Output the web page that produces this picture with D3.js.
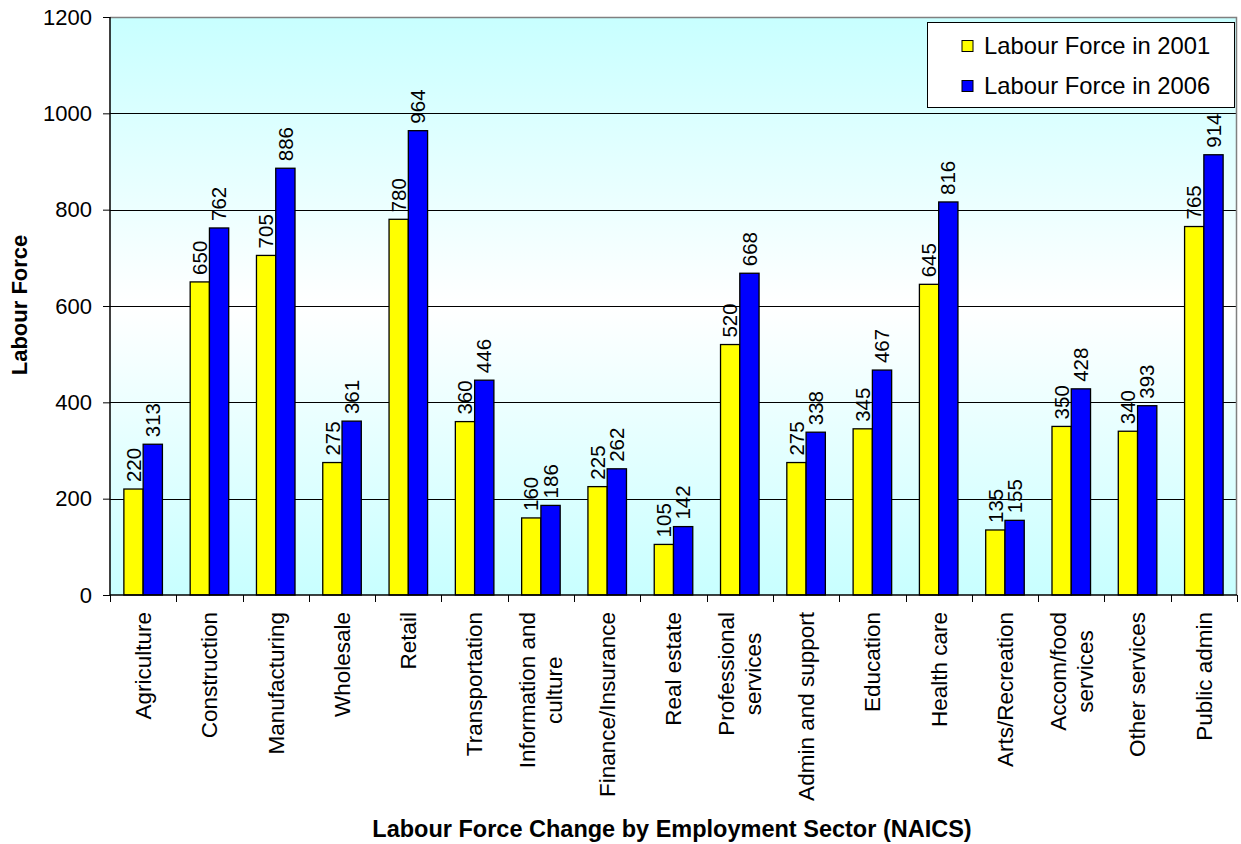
<!DOCTYPE html>
<html>
<head>
<meta charset="utf-8">
<script src="https://cdn.jsdelivr.net/npm/d3@7"></script>
<style>
  html, body { margin: 0; padding: 0; background: #ffffff; }
  svg { display: block; font-family: "Liberation Sans", Arial, sans-serif; }
</style>
</head>
<body>
<svg id="chart" width="1241" height="844"></svg>
<script>
const categories = [
  "Agriculture", "Construction", "Manufacturing", "Wholesale", "Retail",
  "Transportation", "Information and\nculture", "Finance/Insurance", "Real estate",
  "Professional\nservices", "Admin and support", "Education", "Health care",
  "Arts/Recreation", "Accom/food\nservices", "Other services", "Public admin"
];
const seriesNames = ["Labour Force in 2001", "Labour Force in 2006"];
const values2001 = [220, 650, 705, 275, 780, 360, 160, 225, 105, 520, 275, 345, 645, 135, 350, 340, 765];
const values2006 = [313, 762, 886, 361, 964, 446, 186, 262, 142, 668, 338, 467, 816, 155, 428, 393, 914];
const yTicks = [0, 200, 400, 600, 800, 1000, 1200];
const seriesColors = ["#ffff00", "#0000ff"];
const yTitle = "Labour Force";
const xTitle = "Labour Force Change by Employment Sector (NAICS)";

const svg = d3.select("#chart");
const plot = { left: 110, right: 1237, top: 17, bottom: 595 };
const TICK_FONT = 22;
const CAT_FONT = 22.5;
const LABEL_FONT = 20.5;

const x = d3.scaleBand().domain(categories).range([plot.left, plot.right]).padding(0);
const xInner = d3.scaleBand().domain([0, 1]).range([0, x.bandwidth()]).paddingInner(0).paddingOuter(0.72);
const y = d3.scaleLinear().domain([0, 1200]).range([plot.bottom, plot.top]);

// gradient background
const defs = svg.append("defs");
const grad = defs.append("linearGradient").attr("id", "bg").attr("x1", 0).attr("y1", 0).attr("x2", 0).attr("y2", 1);
grad.append("stop").attr("offset", "0%").attr("stop-color", "#c8ffff");
grad.append("stop").attr("offset", "50%").attr("stop-color", "#ffffff");
grad.append("stop").attr("offset", "100%").attr("stop-color", "#c8ffff");

svg.append("rect")
  .attr("x", plot.left).attr("y", plot.top)
  .attr("width", plot.right - plot.left).attr("height", plot.bottom - plot.top)
  .attr("fill", "url(#bg)");

// gridlines
svg.append("g").selectAll("line").data(yTicks.filter(d => d > 0 && d < 1200)).join("line")
  .attr("x1", plot.left).attr("x2", plot.right)
  .attr("y1", d => Math.round(y(d)) + 0.5).attr("y2", d => Math.round(y(d)) + 0.5)
  .attr("stroke", "#000").attr("stroke-width", 1);

// top & right border (gray)
svg.append("path")
  .attr("d", `M${plot.left},${plot.top + 0.5}H${plot.right - 0.5}V${plot.bottom}`)
  .attr("fill", "none").attr("stroke", "#808080").attr("stroke-width", 1.5);

// bars
const data = categories.map((c, i) => ({ c, v: [values2001[i], values2006[i]] }));
const groups = svg.append("g").selectAll("g").data(data).join("g")
  .attr("transform", d => `translate(${x(d.c)},0)`);
groups.selectAll("rect").data(d => d.v.map((v, k) => ({ v, k }))).join("rect")
  .attr("x", d => xInner(d.k))
  .attr("y", d => y(d.v))
  .attr("width", xInner.bandwidth())
  .attr("height", d => y(0) - y(d.v))
  .attr("fill", d => seriesColors[d.k])
  .attr("stroke", "#000").attr("stroke-width", 1.3);

// data labels
groups.selectAll("text").data(d => d.v.map((v, k) => ({ v, k }))).join("text")
  .attr("transform", d => `translate(${xInner(d.k) + xInner.bandwidth() / 2},${y(d.v) - 7}) rotate(-90)`)
  .attr("dy", "0.35em")
  .attr("text-anchor", "start")
  .attr("font-size", LABEL_FONT)
  .attr("fill", "#000")
  .text(d => d.v);

// Y axis
const yAxis = svg.append("g").attr("transform", `translate(${plot.left},0)`)
  .call(d3.axisLeft(y).tickValues(yTicks).tickSize(7).tickPadding(11).tickFormat(d3.format("d")));
yAxis.select(".domain").attr("stroke", "#000").attr("stroke-width", 1.5).attr("d", `M0,${plot.top}V${plot.bottom}`);
yAxis.selectAll(".tick line").attr("stroke", "#000");
yAxis.selectAll(".tick text").attr("font-size", TICK_FONT).attr("font-family", "'Liberation Sans', Arial, sans-serif").attr("fill", "#000");

// X axis
const xAxis = svg.append("g").attr("transform", `translate(0,${plot.bottom})`)
  .call(d3.axisBottom(x).tickValues([]).tickSize(0));
xAxis.select(".domain").attr("stroke", "#000").attr("stroke-width", 1.5).attr("d", `M${plot.left},0H${plot.right}`);
const tickXs = categories.map(c => x(c)).concat([plot.right]);
xAxis.append("g").selectAll("line").data(tickXs).join("line")
  .attr("x1", d => Math.round(d) + 0.5).attr("x2", d => Math.round(d) + 0.5)
  .attr("y1", 0).attr("y2", 7).attr("stroke", "#000");

// category labels (rotated)
const labelTop = plot.bottom + 17;
const lineGap = 27;
categories.forEach(c => {
  const lines = c.split("\n");
  const cx = x(c) + x.bandwidth() / 2;
  const tmp = svg.append("text").attr("font-size", CAT_FONT);
  let maxW = 0;
  lines.forEach(l => { tmp.text(l); maxW = Math.max(maxW, tmp.node().getComputedTextLength()); });
  tmp.remove();
  lines.forEach((l, i) => {
    const lx = cx + (i - (lines.length - 1) / 2) * lineGap;
    svg.append("text")
      .attr("transform", `translate(${lx},${labelTop + maxW / 2}) rotate(-90)`)
      .attr("dy", "0.35em")
      .attr("text-anchor", "middle")
      .attr("font-size", CAT_FONT)
      .attr("fill", "#000")
      .text(l);
  });
});

// axis titles
svg.append("text")
  .attr("transform", `translate(19,305) rotate(-90)`)
  .attr("dy", "0.35em")
  .attr("text-anchor", "middle")
  .attr("font-size", 22).attr("font-weight", "bold")
  .text(yTitle);
svg.append("text")
  .attr("x", 672).attr("y", 837)
  .attr("text-anchor", "middle")
  .attr("font-size", 23.5).attr("font-weight", "bold")
  .text(xTitle);

// legend
const legend = svg.append("g");
legend.append("rect")
  .attr("x", 927.5).attr("y", 22.5).attr("width", 307).attr("height", 85)
  .attr("fill", "#fff").attr("stroke", "#000").attr("stroke-width", 1);
const rowsY = [46, 86];
seriesNames.forEach((name, k) => {
  legend.append("rect")
    .attr("x", 962).attr("y", rowsY[k] - 5.5).attr("width", 11).attr("height", 11)
    .attr("fill", seriesColors[k]).attr("stroke", "#000").attr("stroke-width", 1);
  legend.append("text")
    .attr("x", 984).attr("y", rowsY[k]).attr("dy", "0.35em")
    .attr("font-size", 23.8).attr("fill", "#000")
    .text(name);
});
</script>
</body>
</html>
